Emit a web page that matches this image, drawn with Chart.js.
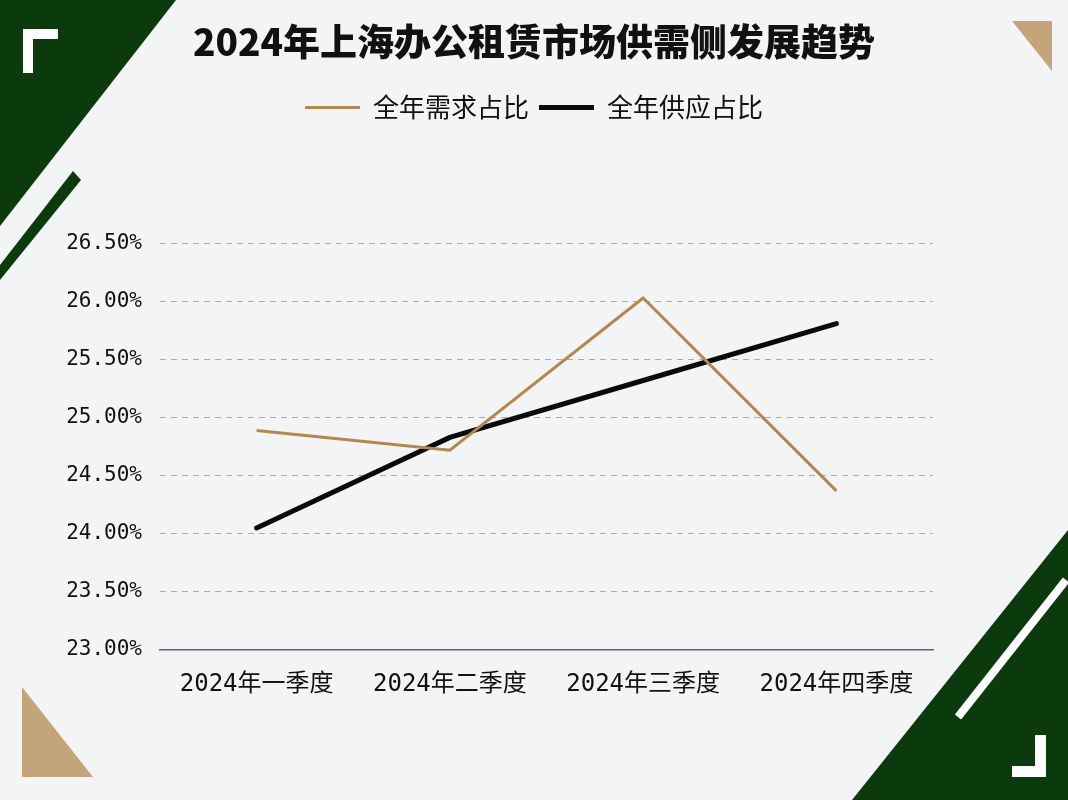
<!DOCTYPE html>
<html>
<head>
<meta charset="utf-8">
<script src="https://cdn.jsdelivr.net/npm/chart.js@4/dist/chart.umd.min.js"></script>
<style>
html,body{margin:0;padding:0;background:#f3f4f6;}
#wrap{width:1068px;height:800px;}
</style>
</head>
<body>
<div id="wrap"><canvas id="c" width="1068" height="800"></canvas></div>
<script>
const categories = ['2024年一季度', '2024年二季度', '2024年三季度', '2024年四季度'];
const demandShare = [24.89, 24.72, 26.03, 24.37];
const supplyShare = [24.05, 24.83, 25.32, 25.81];
const yTicks = [23.0, 23.5, 24.0, 24.5, 25.0, 25.5, 26.0, 26.5];
const seriesNames = ['全年需求占比', '全年供应占比'];
const titleText = '2024年上海办公租赁市场供需侧发展趋势';

const GREEN = '#0b3a0c';
const TAN = '#c3a579';
const BG = '#f3f4f6';

const decor = {
  id: 'decor',
  beforeDraw(chart) {
    const ctx = chart.ctx;
    ctx.save();
    ctx.fillStyle = BG;
    ctx.fillRect(0, 0, 1068, 800);
    ctx.fillStyle = GREEN;
    ctx.beginPath(); ctx.moveTo(0, 0); ctx.lineTo(176, 0); ctx.lineTo(0, 226); ctx.closePath(); ctx.fill();
    ctx.beginPath(); ctx.moveTo(73, 171); ctx.lineTo(81, 180); ctx.lineTo(0, 280); ctx.lineTo(0, 265); ctx.closePath(); ctx.fill();
    ctx.fillStyle = '#ffffff';
    ctx.fillRect(23, 29, 35, 10);
    ctx.fillRect(23, 29, 10, 44);
    ctx.fillStyle = TAN;
    ctx.beginPath(); ctx.moveTo(1012, 21); ctx.lineTo(1052, 21); ctx.lineTo(1052, 71); ctx.closePath(); ctx.fill();
    ctx.beginPath(); ctx.moveTo(22, 687); ctx.lineTo(22, 777); ctx.lineTo(93, 777); ctx.closePath(); ctx.fill();
    ctx.fillStyle = GREEN;
    ctx.beginPath(); ctx.moveTo(1068, 530); ctx.lineTo(1068, 800); ctx.lineTo(852, 800); ctx.closePath(); ctx.fill();
    ctx.strokeStyle = '#ffffff';
    ctx.lineWidth = 8;
    ctx.beginPath(); ctx.moveTo(1066, 580); ctx.lineTo(958, 717); ctx.stroke();
    ctx.fillStyle = '#ffffff';
    ctx.fillRect(1012, 766, 34, 11);
    ctx.fillRect(1035, 735, 11, 42);
    ctx.restore();
  }
};

new Chart(document.getElementById('c'), {
  type: 'line',
  data: {
    labels: categories,
    datasets: [
      { label: seriesNames[0], data: demandShare, borderColor: '#b4874a', backgroundColor: '#b4874a', borderWidth: 3, pointRadius: 0, tension: 0 },
      { label: seriesNames[1], data: supplyShare, borderColor: '#0a0a0a', backgroundColor: '#0a0a0a', borderWidth: 5, pointRadius: 0, tension: 0, borderCapStyle: 'round' }
    ]
  },
  options: {
    responsive: false,
    animation: false,
    devicePixelRatio: 1,
    layout: { padding: { left: 0, right: 0, top: 0, bottom: 0 } },
    plugins: {
      title: {
        display: true, text: titleText, color: '#111',
        font: { family: '"Noto Sans CJK SC"', size: 37, weight: '900' },
        padding: { top: 20, bottom: 20 }
      },
      subtitle: {
        display: true, text: ' ', weight: 500,
        font: { size: 10 }, padding: { top: 101, bottom: 0 }
      },
      legend: {
        display: true,
        labels: {
          usePointStyle: true, pointStyle: 'line', pointStyleWidth: 55,
          color: '#111', padding: 10,
          font: { family: '"Noto Sans CJK SC"', size: 26 }
        }
      },
      tooltip: { enabled: false }
    },
    scales: {
      x: {
        offset: true,
        grid: { display: false, drawTicks: false, offset: true },
        border: { display: true, color: '#5b6372', width: 1.5 },
        ticks: { color: '#111', padding: 20, font: { family: '"DejaVu Sans Mono", "Noto Sans CJK SC"', size: 24 }, maxRotation: 0 },
        afterFit(s) { s.height = 150; }
      },
      y: {
        min: 23, max: 26.5,
        afterBuildTicks(s) { s.ticks = yTicks.map(v => ({ value: v })); },
        grid: {
          drawTicks: false,
          color: ctx => (ctx.tick && ctx.tick.value === 23) ? 'rgba(0,0,0,0)' : '#a9abb0',
          lineWidth: 1
        },
        border: { display: false, dash: [6, 5] },
        ticks: {
          color: '#111', padding: 18,
          font: { family: '"DejaVu Sans Mono"', size: 21 },
          callback: v => Number(v).toFixed(2) + '%'
        },
        afterFit(s) { s.width = 160; }
      },
      yRightSpace: {
        position: 'right',
        display: true,
        grid: { display: false, drawTicks: false },
        border: { display: false },
        ticks: { display: false },
        afterFit(s) { s.width = 135; }
      }
    }
  },
  plugins: [decor]
});
</script>
</body>
</html>
